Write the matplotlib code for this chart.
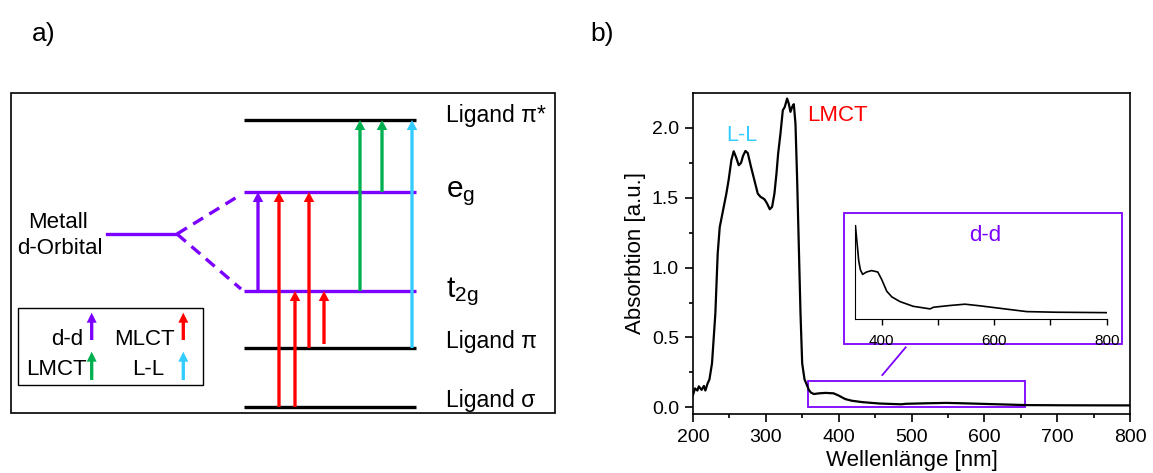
import matplotlib.pyplot as plt
from matplotlib.patches import Rectangle

plt.rcParams['font.family'] = ['Liberation Sans', 'DejaVu Sans']
plt.rcParams['mathtext.fontset'] = 'custom'
plt.rcParams['mathtext.rm'] = 'Liberation Sans'
plt.rcParams['mathtext.it'] = 'Liberation Sans'

PURPLE = '#7B00FF'
RED = '#FF0000'
GREEN = '#00B050'
CYAN = '#33CCFF'

# ---- a) energy level scheme (vertical positions in pixels from the top)
level_labels = ['Ligand π*', r'$\mathregular{e_g}$', r'$\mathregular{t_{2g}}$', 'Ligand π', 'Ligand σ']
level_y = [120, 192, 291, 348, 407]
level_label_y = [122, 197, 297, 348, 407]
level_colors = ['black', PURPLE, PURPLE, 'black', 'black']
level_fs = [16.5, 21.5, 21.5, 16.5, 16.5]
metal_y = 234

# transitions: x position, start level, end level, colour
trans_x = [258, 279, 295, 309, 324, 360, 382, 412]
trans_from = [291, 407, 407, 348, 344, 291, 192, 348]
trans_to = [192, 192, 291, 192, 291, 120, 120, 120]
trans_col = [PURPLE, RED, RED, RED, RED, GREEN, GREEN, CYAN]

legend_names = ['d-d', 'MLCT', 'LMCT', 'L-L']
legend_cols = [PURPLE, RED, GREEN, CYAN]
legend_text_x = [83, 175, 86.7, 164]
legend_arrow_x = [91.7, 183.3, 91.7, 183.3]
legend_row = [0, 0, 1, 1]

# ---- b) UV/Vis spectrum
wl = [200, 202.7, 206, 208, 211.8, 215, 217, 220, 222.6, 226.1, 230.7, 233.9,
      236.7, 239, 242.2, 245.8, 249, 252.7, 255.9, 259.1, 262.8, 266, 268.7,
      272, 275.2, 279.7, 284.3, 288.9, 292.6, 298, 301.7, 305.4, 308.6, 311.8,
      314.6, 316.9, 320.1, 323.3, 326, 329.2, 331.5, 333.8, 336.1, 338.4,
      340.7, 343, 345.3, 347.6, 349.9, 353.1, 356.7, 359, 362, 366, 373, 382,
      393, 400, 409, 418, 432.5, 456, 486, 492, 521, 548, 575, 622, 658, 711, 800]
absorb = [0.088, 0.135, 0.12, 0.15, 0.125, 0.153, 0.12, 0.17, 0.2, 0.315, 0.672,
          1.10, 1.29, 1.35, 1.435, 1.53, 1.63, 1.77, 1.833, 1.79, 1.733, 1.75,
          1.80, 1.835, 1.82, 1.72, 1.625, 1.53, 1.507, 1.49, 1.459, 1.418, 1.435,
          1.53, 1.673, 1.816, 1.96, 2.126, 2.15, 2.21, 2.174, 2.115, 2.15, 2.17,
          2.03, 1.626, 1.15, 0.672, 0.315, 0.2, 0.155, 0.125, 0.105, 0.095, 0.100,
          0.103, 0.100, 0.084, 0.059, 0.047, 0.037, 0.027, 0.0215, 0.025, 0.0287,
          0.0315, 0.028, 0.021, 0.0157, 0.0144, 0.0135]

fig = plt.figure(figsize=(11.53, 4.73), dpi=100)

# panel a works in pixel units
ax_a = fig.add_axes([0, 0, 0.5, 1])
ax_a.set_xlim(0, 576.5)
ax_a.set_ylim(473, 0)
ax_a.axis('off')

ax_a.add_patch(Rectangle((11, 93), 544, 320, fill=False, ec='black', lw=1.2))
ax_a.hlines(level_y, 244, 416, colors=level_colors, lw=2.4, zorder=2)
for lab, yb, fs in zip(level_labels, level_label_y, level_fs):
    ax_a.text(446, yb, lab, fontsize=fs, ha='left', va='baseline')

ax_a.plot([107, 177], [metal_y, metal_y], color=PURPLE, lw=2.4)
ax_a.plot([177, 237], [metal_y, 197], color=PURPLE, lw=2.4, ls=(0, (3.5, 2.2)))
ax_a.plot([177, 241], [metal_y, 289], color=PURPLE, lw=2.4, ls=(0, (3.5, 2.2)))
ax_a.text(58, 228, 'Metall', fontsize=16, ha='center', va='baseline')
ax_a.text(60, 254, 'd-Orbital', fontsize=16, ha='center', va='baseline')

for x, y0, y1, c in zip(trans_x, trans_from, trans_to, trans_col):
    ax_a.arrow(x, y0, 0, y1 - y0, width=3.3, head_width=10.5, head_length=10,
               length_includes_head=True, color=c, lw=0, zorder=3)

ax_a.add_patch(Rectangle((18.3, 308.3), 184.4, 76.7, fill=False, ec='black', lw=1.0))
row_base = [345, 375]
row_arrow = [(340, 312.7), (380, 351.7)]
for name, c, tx, axx, r in zip(legend_names, legend_cols, legend_text_x, legend_arrow_x, legend_row):
    ax_a.text(tx, row_base[r], name, fontsize=16, ha='right', va='baseline')
    y0, y1 = row_arrow[r]
    ax_a.arrow(axx, y0, 0, y1 - y0, width=3.3, head_width=10, head_length=10,
               length_includes_head=True, color=c, lw=0)

fig.text(32 / 1153, 1 - 41 / 473, 'a)', fontsize=19, ha='left', va='baseline')
fig.text(590 / 1153, 1 - 41 / 473, 'b)', fontsize=19, ha='left', va='baseline')

# panel b
ax_b = fig.add_axes([693 / 1153, 59 / 473, 437 / 1153, 321 / 473])
ax_b.plot(wl, absorb, color='black', lw=1.6)
ax_b.set_xlim(200, 800)
ax_b.set_ylim(-0.048, 2.25)
ax_b.set_xticks(range(200, 801, 100))
ax_b.set_xticks(range(250, 800, 100), minor=True)
ax_b.set_yticks([0, 0.5, 1.0, 1.5, 2.0])
ax_b.set_yticks([0.25, 0.75, 1.25, 1.75], minor=True)
ax_b.yaxis.set_major_formatter(plt.FormatStrFormatter('%.1f'))
ax_b.tick_params(which='major', direction='out', length=6, width=1.2, labelsize=14)
ax_b.tick_params(axis='x', which='major', pad=5)
ax_b.tick_params(axis='y', which='major', pad=4)
ax_b.tick_params(which='minor', direction='out', length=3, width=1.2)
for s in ax_b.spines.values():
    s.set_linewidth(1.2)
ax_b.set_xlabel('Wellenlänge [nm]', fontsize=16, labelpad=3)
ax_b.set_ylabel('Absorbtion [a.u.]', fontsize=16, labelpad=4)

ax_b.text(266.5, 1.948, 'L-L', color=CYAN, fontsize=15.5, ha='center', va='center')
ax_b.text(398, 2.09, 'LMCT', color=RED, fontsize=16, ha='center', va='center')
ax_b.text(601, 1.228, 'd-d', color=PURPLE, fontsize=16, ha='center', va='center')

ax_b.add_patch(Rectangle((357.5, 0.004), 298.5, 0.186, fill=False, ec=PURPLE, lw=1.3))
ax_b.add_patch(Rectangle((407.3, 0.453), 381.7, 0.937, fill=False, ec=PURPLE, lw=1.3))
ax_b.plot([460, 492], [0.231, 0.429], color=PURPLE, lw=1.3)

# inset: zoom into the d-d region
ax_in = fig.add_axes([855 / 1153, 154 / 473, 252 / 1153, 94 / 473])
ax_in.patch.set_alpha(0)
ax_in.plot(wl, absorb, color='black', lw=1.2)
ax_in.set_xlim(352.5, 800.5)
ax_in.set_ylim(0, 0.2)
ax_in.spines['top'].set_visible(False)
ax_in.spines['right'].set_visible(False)
ax_in.set_yticks([])
ax_in.set_xticks([400, 500, 600, 700, 800])
ax_in.set_xticklabels(['400', '', '600', '', '800'])
ax_in.tick_params(axis='x', direction='out', length=4, width=1.0, labelsize=11, pad=7)

fig.savefig('out.png', dpi=100)
